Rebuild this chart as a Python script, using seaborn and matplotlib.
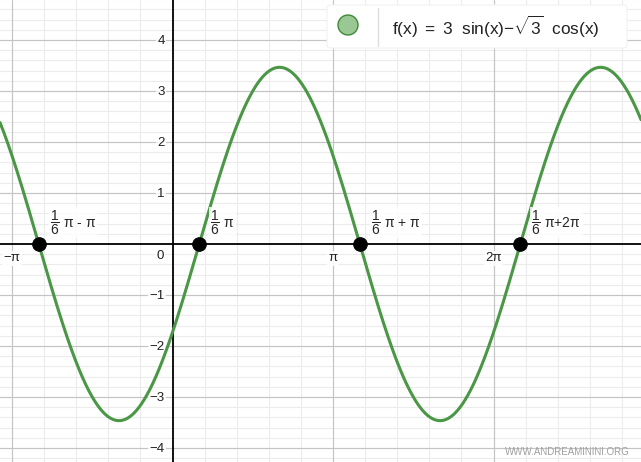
import numpy as np
import pandas as pd
import matplotlib.pyplot as plt
import seaborn as sns
from matplotlib.patches import FancyBboxPatch, Ellipse
from matplotlib.lines import Line2D

# visible window (data units)
x_min, x_max = -3.376, 9.168
y_min, y_max = -4.275, 4.784

# f(x) = 3 sin(x) - sqrt(3) cos(x)
coef_sin = 3
coef_cos = np.sqrt(3)

# zeros at pi/6 + k*pi
zero_k = [-1, 0, 1, 2]
zero_labels = [r"$\dfrac{1}{6}$ π - π", r"$\dfrac{1}{6}$ π",
               r"$\dfrac{1}{6}$ π + π", r"$\dfrac{1}{6}$ π+2π"]

x_tick_vals = [-np.pi, np.pi, 2 * np.pi]
x_tick_labels = ["−π", "π", "2π"]
y_tick_vals = [-4, -3, -2, -1, 1, 2, 3, 4]

legend_text = r"f(x) $=$ 3  sin(x)$-\sqrt{3}$  cos(x)"

sns.set_style("white")
plt.rcParams['font.family'] = ['Liberation Sans', 'DejaVu Sans']
plt.rcParams['mathtext.fontset'] = 'custom'
plt.rcParams['mathtext.rm'] = 'Liberation Sans'
plt.rcParams['mathtext.it'] = 'Liberation Sans'
plt.rcParams['mathtext.sf'] = 'Liberation Sans'

fig = plt.figure(figsize=(6.41, 4.62), dpi=100)
ax = fig.add_axes([0, 0, 1, 1])

xs = np.linspace(x_min, x_max, 800)
df = pd.DataFrame({"x": xs, "y": coef_sin * np.sin(xs) - coef_cos * np.cos(xs)})
sns.lineplot(data=df, x="x", y="y", color="#4a9745", lw=2.2, ax=ax, zorder=4)

pts = pd.DataFrame({"x": [np.pi / 6 + k * np.pi for k in zero_k], "y": 0.0})
sns.scatterplot(data=pts, x="x", y="y", s=95, color="black", edgecolor="black",
                zorder=6, ax=ax)

for (px, py), lab in zip(pts[["x", "y"]].values, zero_labels):
    ax.annotate(lab, (px, py), xytext=(8, 5), textcoords="offset points",
                fontsize=10, ha="left", va="bottom", zorder=7,
                bbox=dict(boxstyle="square,pad=0.1", fc="white", ec="none", alpha=0.8))

# minor grid (pi/5 and 0.2 steps) drawn as plain lines, under everything
for gx in np.arange(-2 * np.pi, x_max, np.pi / 5):
    ax.axvline(gx, color="#ececec", lw=0.8, zorder=0.1)
for gy in np.arange(-5, 5.01, 0.2):
    ax.axhline(gy, color="#ececec", lw=0.8, zorder=0.1)

ax.set_xticks(x_tick_vals)
ax.set_xticklabels(x_tick_labels)
ax.set_yticks(y_tick_vals)
ax.set_xlim(x_min, x_max)
ax.set_ylim(y_min, y_max)
ax.grid(which="major", color="#c4c4c4", lw=0.8)
ax.set_axisbelow(True)

for side in ["top", "right"]:
    ax.spines[side].set_visible(False)
ax.spines["left"].set_position(("data", 0))
ax.spines["bottom"].set_position(("data", 0))
for side in ["left", "bottom"]:
    ax.spines[side].set_color("black")
    ax.spines[side].set_linewidth(1.3)
    ax.spines[side].set_zorder(3)
ax.tick_params(which="major", axis="both", length=3, width=0.8, color="#333333",
               labelsize=9.5, labelcolor="#222222")
ax.tick_params(which="major", axis="x", pad=3)
ax.tick_params(which="major", axis="y", pad=2.5)
for lbl in ax.get_xticklabels() + ax.get_yticklabels():
    lbl.set_bbox(dict(boxstyle="square,pad=0.1", fc="white", ec="none", alpha=0.85))
ax.set_xlabel("")
ax.set_ylabel("")
ax.text(-0.17, -0.12, "0", ha="right", va="top", fontsize=9.5, color="#222222",
        bbox=dict(boxstyle="square,pad=0.1", fc="white", ec="none", alpha=0.85))

# legend box (figure pixel coordinates)
W, H = 641, 462
box = FancyBboxPatch((327 / W, 1 - 48 / H), 300 / W, 43 / H,
                     boxstyle="round,pad=0,rounding_size=0.006",
                     transform=fig.transFigure, fc="white", ec="#f2f2f2",
                     lw=0.8, zorder=10)
fig.patches.append(box)
fig.lines.append(Line2D([378 / W, 378 / W], [1 - 8 / H, 1 - 46 / H],
                        transform=fig.transFigure, color="#dddddd", lw=1, zorder=11))
fig.patches.append(Ellipse((348 / W, 1 - 25 / H), 20 / W, 20 / H,
                           transform=fig.transFigure,
                           fc="#99c895", ec="#3e8a3a", lw=1, zorder=11))
fig.text(392 / W, 1 - 27 / H, legend_text, fontsize=12.4, ha="left", va="center",
         color="#222222", zorder=12)

fig.text(630 / W, 1 - 452 / H, "WWW.ANDREAMININI.ORG", fontsize=7, ha="right",
         va="center", color="#a0a0a0")

fig.savefig("out.png", dpi=100)
